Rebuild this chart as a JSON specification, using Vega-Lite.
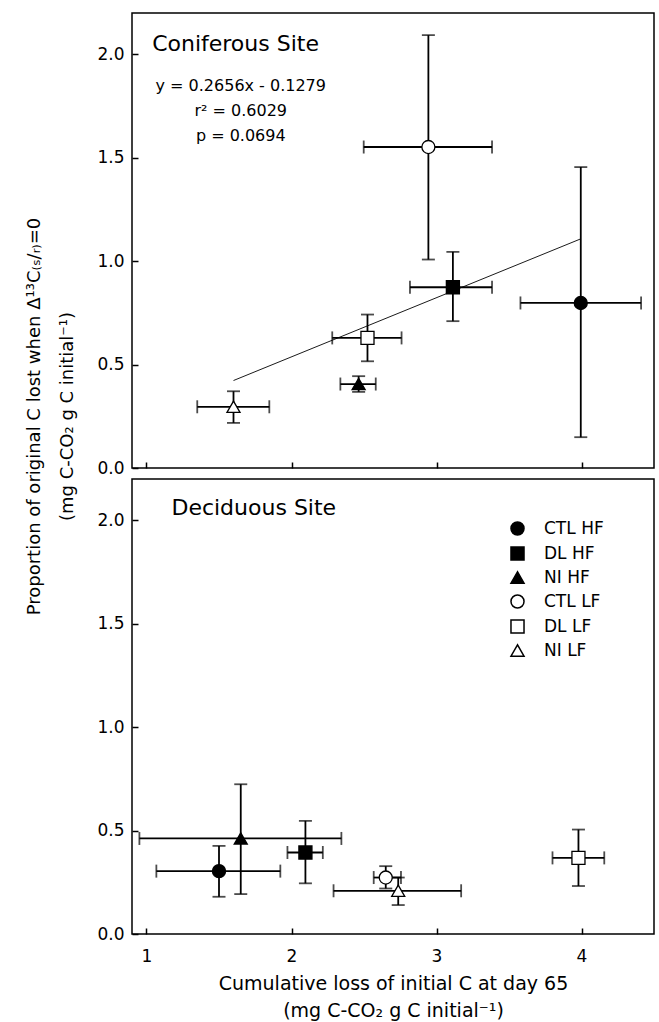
{
  "$schema": "https://vega.github.io/schema/vega-lite/v6.json",
  "padding": {"left": 25, "top": 12, "right": 5, "bottom": 5},
  "bounds": "flush",
  "spacing": 11,
  "background": "white",
  "config": {
    "font": "DejaVu Sans",
    "view": {"stroke": "black", "strokeWidth": 1.5},
    "axis": {
      "grid": false, "domain": false,
      "tickColor": "black", "tickWidth": 1.5, "tickSize": -6,
      "labelColor": "black", "titleColor": "black",
      "labelFont": "DejaVu Sans", "titleFont": "DejaVu Sans",
      "labelFontSize": 17, "titleFontSize": 19, "titleFontWeight": "normal"
    },
    "text": {"font": "DejaVu Sans", "color": "black"}
  },
  "datasets": {
    "conif": [
      {"trt": "CTL HF", "x": 3.995, "xlo": 3.579, "xhi": 4.411, "y": 0.798, "ylo": 0.149, "yhi": 1.455},
      {"trt": "DL HF", "x": 3.113, "xlo": 2.817, "xhi": 3.383, "y": 0.874, "ylo": 0.710, "yhi": 1.045},
      {"trt": "NI HF", "x": 2.463, "xlo": 2.337, "xhi": 2.581, "y": 0.406, "ylo": 0.368, "yhi": 0.444},
      {"trt": "CTL LF", "x": 2.944, "xlo": 2.498, "xhi": 3.383, "y": 1.552, "ylo": 1.008, "yhi": 2.093},
      {"trt": "DL LF", "x": 2.524, "xlo": 2.281, "xhi": 2.759, "y": 0.629, "ylo": 0.516, "yhi": 0.742},
      {"trt": "NI LF", "x": 1.600, "xlo": 1.350, "xhi": 1.847, "y": 0.296, "ylo": 0.218, "yhi": 0.371}
    ],
    "decid": [
      {"trt": "CTL HF", "x": 1.500, "xlo": 1.068, "xhi": 1.923, "y": 0.304, "ylo": 0.180, "yhi": 0.426},
      {"trt": "DL HF", "x": 2.096, "xlo": 1.972, "xhi": 2.216, "y": 0.394, "ylo": 0.245, "yhi": 0.547},
      {"trt": "NI HF", "x": 1.650, "xlo": 0.951, "xhi": 2.344, "y": 0.462, "ylo": 0.193, "yhi": 0.724},
      {"trt": "CTL LF", "x": 2.650, "xlo": 2.567, "xhi": 2.755, "y": 0.273, "ylo": 0.220, "yhi": 0.328},
      {"trt": "DL LF", "x": 3.979, "xlo": 3.800, "xhi": 4.157, "y": 0.368, "ylo": 0.232, "yhi": 0.505},
      {"trt": "NI LF", "x": 2.736, "xlo": 2.290, "xhi": 3.170, "y": 0.209, "ylo": 0.140, "yhi": 0.273}
    ],
    "fit": [
      {"x": 1.60, "y": 0.423},
      {"x": 3.995, "y": 1.108}
    ],
    "conifTitle": [{"label": "Coniferous Site", "x": 1.039, "y": 2.048}],
    "conifStats": [
      {"label": "y = 0.2656x - 0.1279", "x": 1.65, "y": 1.847},
      {"label": "r² = 0.6029", "x": 1.65, "y": 1.725},
      {"label": "p = 0.0694", "x": 1.65, "y": 1.604}
    ],
    "decidTitle": [{"label": "Deciduous Site", "x": 1.172, "y": 2.058}]
  },
  "vconcat": [
    {
      "width": 522, "height": 455,
      "layer": [
        {
          "data": {"name": "conif"},
          "mark": {"type": "errorbar", "ticks": {"size": 13, "thickness": 1.8}, "thickness": 1.8, "color": "black"},
          "encoding": {
            "x": {"field": "xlo", "type": "quantitative", "title": null,
                  "scale": {"domain": [0.9, 4.5], "nice": false, "zero": false},
                  "axis": {"values": [1, 2, 3, 4], "labels": false}},
            "x2": {"field": "xhi"},
            "y": {"field": "y", "type": "quantitative",
                  "title": ["Proportion of original C lost when Δ¹³C₍ₛ/ᵣ₎=0", "(mg C-CO₂ g C initial⁻¹)"],
                  "scale": {"domain": [0, 2.2], "nice": false, "zero": false},
                  "axis": {"values": [0, 0.5, 1, 1.5, 2], "format": ".1f", "labelPadding": 14,
                           "titleY": 403, "titlePadding": 20, "titleLineHeight": 33, "titleFontSize": 18}}
          }
        },
        {
          "data": {"name": "conif"},
          "mark": {"type": "errorbar", "ticks": {"size": 13, "thickness": 1.8}, "thickness": 1.8, "color": "black"},
          "encoding": {
            "x": {"field": "x", "type": "quantitative", "title": null},
            "y": {"field": "ylo", "type": "quantitative", "title": ["Proportion of original C lost when Δ¹³C₍ₛ/ᵣ₎=0", "(mg C-CO₂ g C initial⁻¹)"]},
            "y2": {"field": "yhi"}
          }
        },
        {
          "data": {"name": "fit"},
          "mark": {"type": "line", "color": "black", "strokeWidth": 0.9},
          "encoding": {
            "x": {"field": "x", "type": "quantitative", "title": null},
            "y": {"field": "y", "type": "quantitative", "title": ["Proportion of original C lost when Δ¹³C₍ₛ/ᵣ₎=0", "(mg C-CO₂ g C initial⁻¹)"]}
          }
        },
        {
          "data": {"name": "conif"},
          "mark": {"type": "point", "filled": true, "opacity": 1, "stroke": "black", "strokeWidth": 1.3, "size": 170},
          "encoding": {
            "x": {"field": "x", "type": "quantitative", "title": null},
            "y": {"field": "y", "type": "quantitative", "title": ["Proportion of original C lost when Δ¹³C₍ₛ/ᵣ₎=0", "(mg C-CO₂ g C initial⁻¹)"]},
            "shape": {"field": "trt", "type": "nominal", "legend": null,
                      "scale": {"domain": ["CTL HF", "DL HF", "NI HF", "CTL LF", "DL LF", "NI LF"],
                                "range": ["circle", "square", "triangle-up", "circle", "square", "triangle-up"]}},
            "fill": {"field": "trt", "type": "nominal", "legend": null,
                     "scale": {"domain": ["CTL HF", "DL HF", "NI HF", "CTL LF", "DL LF", "NI LF"],
                               "range": ["black", "black", "black", "white", "white", "white"]}}
          }
        },
        {
          "data": {"name": "conifTitle"},
          "mark": {"type": "text", "align": "left", "baseline": "middle", "fontSize": 22},
          "encoding": {
            "x": {"field": "x", "type": "quantitative", "title": null},
            "y": {"field": "y", "type": "quantitative", "title": ["Proportion of original C lost when Δ¹³C₍ₛ/ᵣ₎=0", "(mg C-CO₂ g C initial⁻¹)"]},
            "text": {"field": "label"}
          }
        },
        {
          "data": {"name": "conifStats"},
          "mark": {"type": "text", "align": "center", "baseline": "middle", "fontSize": 16},
          "encoding": {
            "x": {"field": "x", "type": "quantitative", "title": null},
            "y": {"field": "y", "type": "quantitative", "title": ["Proportion of original C lost when Δ¹³C₍ₛ/ᵣ₎=0", "(mg C-CO₂ g C initial⁻¹)"]},
            "text": {"field": "label"}
          }
        }
      ]
    },
    {
      "width": 522, "height": 455,
      "layer": [
        {
          "data": {"name": "decid"},
          "mark": {"type": "errorbar", "ticks": {"size": 13, "thickness": 1.8}, "thickness": 1.8, "color": "black"},
          "encoding": {
            "x": {"field": "xlo", "type": "quantitative",
                  "title": ["Cumulative loss of initial C at day 65", "(mg C-CO₂  g C initial⁻¹)"],
                  "scale": {"domain": [0.9, 4.5], "nice": false, "zero": false},
                  "axis": {"values": [1, 2, 3, 4], "format": "d", "labelPadding": 20, "titlePadding": 10, "titleLineHeight": 27}},
            "x2": {"field": "xhi"},
            "y": {"field": "y", "type": "quantitative", "title": null,
                  "scale": {"domain": [0, 2.2], "nice": false, "zero": false},
                  "axis": {"values": [0, 0.5, 1, 1.5, 2], "format": ".1f", "labelPadding": 14}}
          }
        },
        {
          "data": {"name": "decid"},
          "mark": {"type": "errorbar", "ticks": {"size": 13, "thickness": 1.8}, "thickness": 1.8, "color": "black"},
          "encoding": {
            "x": {"field": "x", "type": "quantitative", "title": ["Cumulative loss of initial C at day 65", "(mg C-CO₂  g C initial⁻¹)"]},
            "y": {"field": "ylo", "type": "quantitative", "title": null},
            "y2": {"field": "yhi"}
          }
        },
        {
          "data": {"name": "decid"},
          "mark": {"type": "point", "filled": true, "opacity": 1, "stroke": "black", "strokeWidth": 1.3, "size": 170},
          "encoding": {
            "x": {"field": "x", "type": "quantitative", "title": ["Cumulative loss of initial C at day 65", "(mg C-CO₂  g C initial⁻¹)"]},
            "y": {"field": "y", "type": "quantitative", "title": null},
            "shape": {"field": "trt", "type": "nominal",
                      "scale": {"domain": ["CTL HF", "DL HF", "NI HF", "CTL LF", "DL LF", "NI LF"],
                                "range": ["circle", "square", "triangle-up", "circle", "square", "triangle-up"]},
                      "legend": {"orient": "none", "legendX": 377, "legendY": 41, "title": null,
                                 "labelFontSize": 17, "labelFont": "DejaVu Sans", "labelColor": "black",
                                 "symbolSize": 170, "symbolOpacity": 1, "labelOffset": 18, "rowPadding": 4,
                                 "encode": {"symbols": {"update": {"stroke": {"value": "black"}, "strokeWidth": {"value": 1.2}}}}}},
            "fill": {"field": "trt", "type": "nominal",
                     "scale": {"domain": ["CTL HF", "DL HF", "NI HF", "CTL LF", "DL LF", "NI LF"],
                               "range": ["black", "black", "black", "white", "white", "white"]},
                     "legend": {"orient": "none", "legendX": 377, "legendY": 41, "title": null,
                                "labelFontSize": 17, "labelFont": "DejaVu Sans", "labelColor": "black",
                                "symbolSize": 170, "symbolOpacity": 1, "labelOffset": 18, "rowPadding": 4,
                                "encode": {"symbols": {"update": {"stroke": {"value": "black"}, "strokeWidth": {"value": 1.2}}}}}}
          }
        },
        {
          "data": {"name": "decidTitle"},
          "mark": {"type": "text", "align": "left", "baseline": "middle", "fontSize": 22},
          "encoding": {
            "x": {"field": "x", "type": "quantitative", "title": ["Cumulative loss of initial C at day 65", "(mg C-CO₂  g C initial⁻¹)"]},
            "y": {"field": "y", "type": "quantitative", "title": null},
            "text": {"field": "label"}
          }
        }
      ]
    }
  ],
  "resolve": {"legend": {"shape": "independent", "fill": "independent"}}
}
